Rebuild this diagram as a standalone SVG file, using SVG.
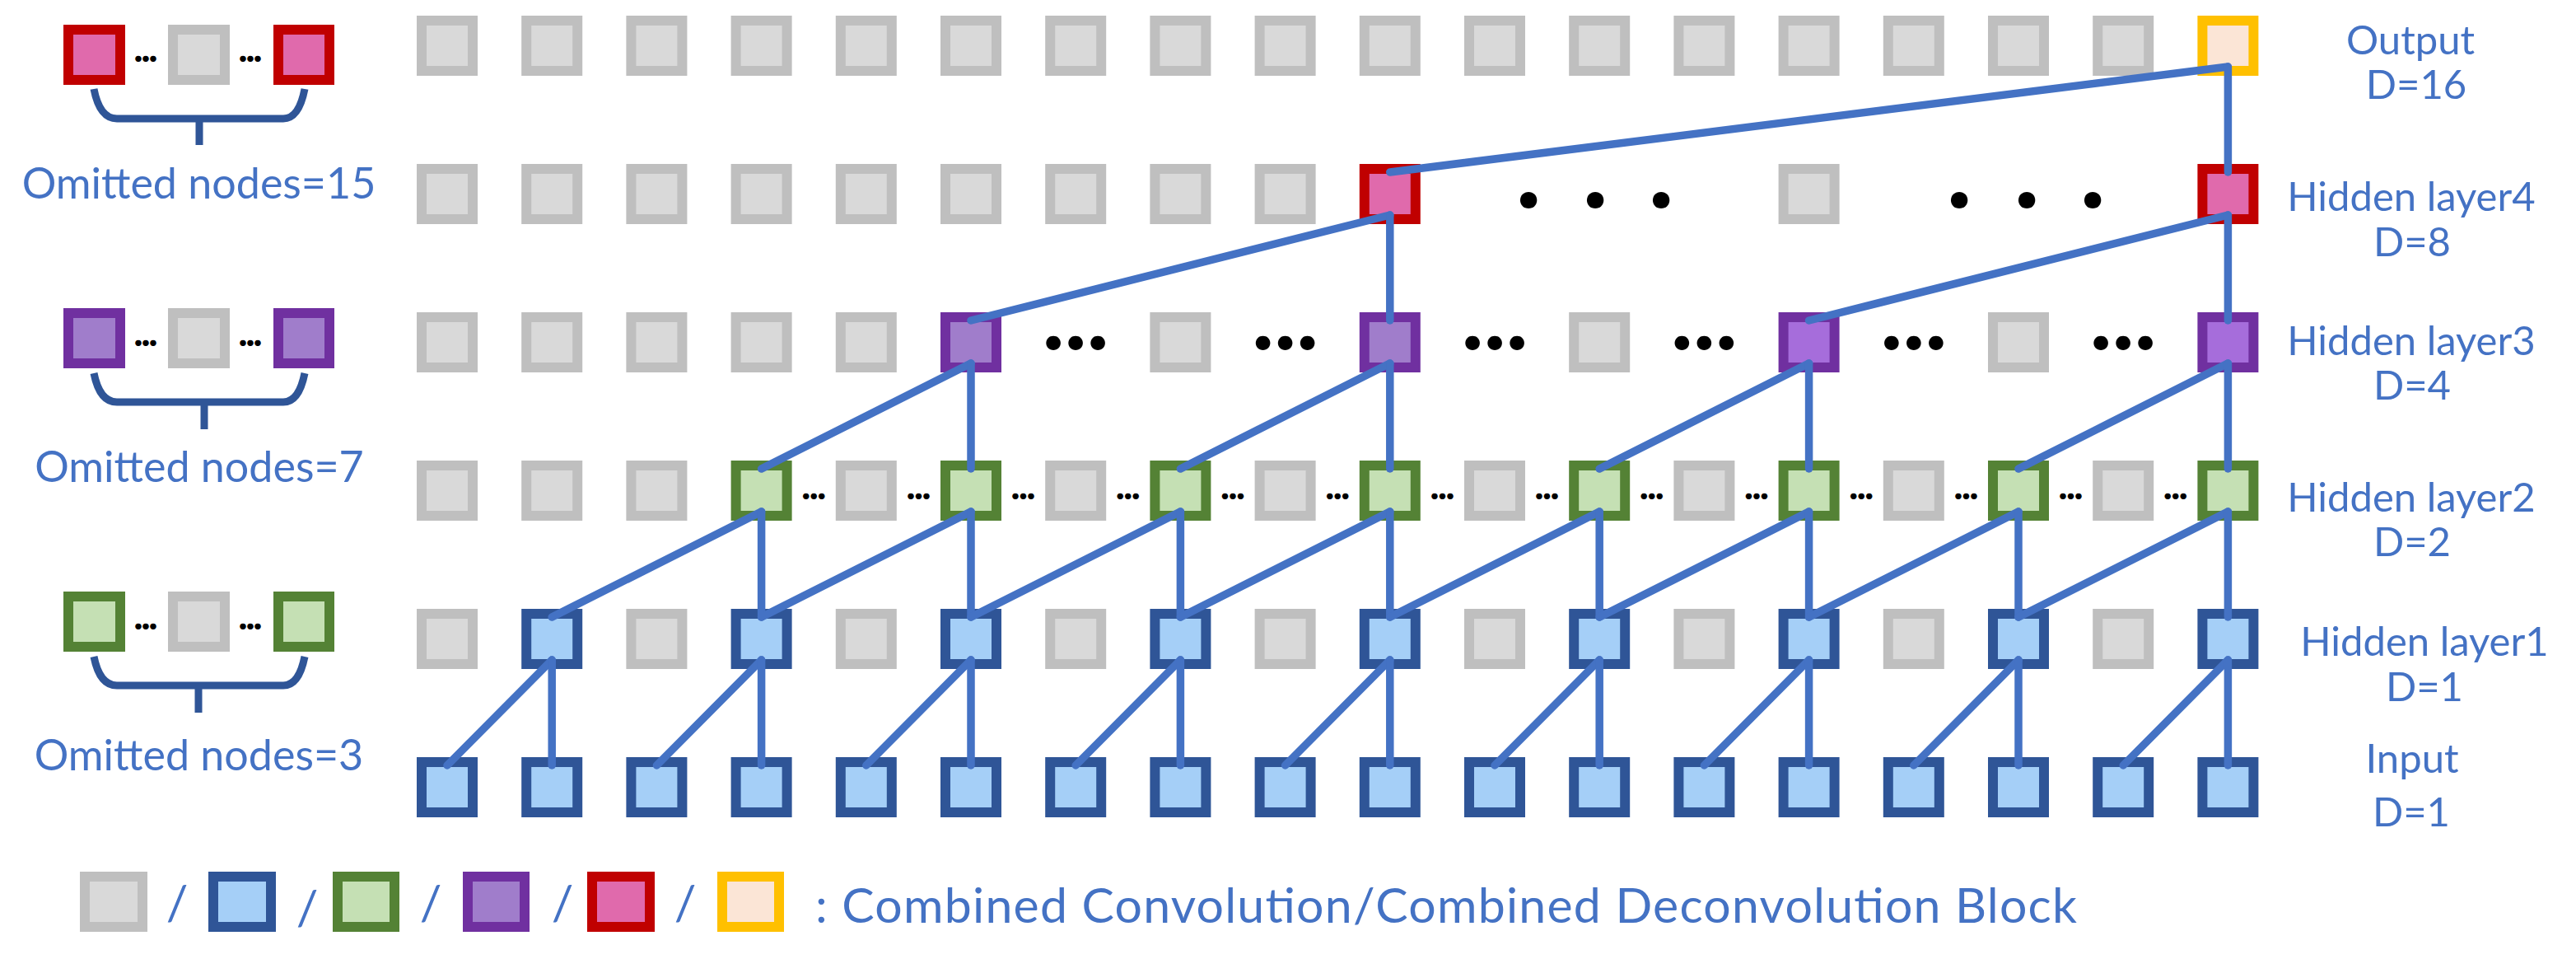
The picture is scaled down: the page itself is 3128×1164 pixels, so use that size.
<svg xmlns="http://www.w3.org/2000/svg" width="3128" height="1164" viewBox="0 0 3128 1164">
<style>
rect{stroke-width:12}
.g{fill:#D9D9D9;stroke:#BFBFBF}
.b{fill:#A5CFF7;stroke:#2F5597}
.gr{fill:#C5E0B4;stroke:#548235}
.p{fill:#A07DCB;stroke:#7030A0}
.p2{fill:#A66DDB;stroke:#7030A0}
.r{fill:#E06AAC;stroke:#C00000}
.o{fill:#FBE5D6;stroke:#FFC000}
.lbl{font-family:Lato,"Liberation Sans",sans-serif;fill:#4472C4;text-anchor:middle}
.dots{font-family:Lato,"Liberation Sans",sans-serif;font-weight:900;fill:#000;text-anchor:middle}
.sd{font-size:46px}
.md{font-size:108px}
.ld{font-size:125px}
#connectors line{stroke:#4472C4;stroke-width:9.5;stroke-linecap:round}
.brk{fill:none;stroke:#2F5597;stroke-width:9}
</style>

<!-- Left legend: omitted nodes -->
<g id="omit15">
  <rect class="r" x="83" y="36" width="63" height="61"/>
  <rect class="g" x="210" y="36" width="63" height="61"/>
  <rect class="r" x="338" y="36" width="62" height="61"/>
  <text class="dots sd" x="168 177 186" y="75">...</text>
  <text class="dots sd" x="295 304 313" y="75">...</text>
  <path class="brk" d="M114,108 Q121,144 142,144 L344,144 Q363,144 370,108 M242,144 L242,176"/>
  <text class="lbl" x="241.5" y="241" font-size="52">Omitted nodes=15</text>
</g>
<g id="omit7">
  <rect class="p" x="83" y="380" width="63" height="61"/>
  <rect class="g" x="210" y="380" width="63" height="61"/>
  <rect class="p" x="338" y="380" width="62" height="61"/>
  <text class="dots sd" x="168 177 186" y="420">...</text>
  <text class="dots sd" x="295 304 313" y="420">...</text>
  <path class="brk" d="M114,453 Q121,488 142,488 L344,488 Q363,488 370,453 M248,488 L248,521"/>
  <text class="lbl" x="242" y="585" font-size="52">Omitted nodes=7</text>
</g>
<g id="omit3">
  <rect class="gr" x="83" y="724" width="63" height="61"/>
  <rect class="g" x="210" y="724" width="63" height="61"/>
  <rect class="gr" x="338" y="724" width="62" height="61"/>
  <text class="dots sd" x="168 177 186" y="764">...</text>
  <text class="dots sd" x="295 304 313" y="764">...</text>
  <path class="brk" d="M114,797 Q121,832 142,832 L344,832 Q363,832 370,797 M241,832 L241,865"/>
  <text class="lbl" x="241.5" y="935" font-size="52">Omitted nodes=3</text>
</g>

<!-- Output row -->
<g id="out0"><rect class="g" x="512" y="25" width="62" height="61"/></g>
<g id="out1"><rect class="g" x="639.2" y="25" width="62" height="61"/></g>
<g id="out2"><rect class="g" x="766.4" y="25" width="62" height="61"/></g>
<g id="out3"><rect class="g" x="893.6" y="25" width="62" height="61"/></g>
<g id="out4"><rect class="g" x="1020.8" y="25" width="62" height="61"/></g>
<g id="out5"><rect class="g" x="1148" y="25" width="62" height="61"/></g>
<g id="out6"><rect class="g" x="1275.2" y="25" width="62" height="61"/></g>
<g id="out7"><rect class="g" x="1402.4" y="25" width="62" height="61"/></g>
<g id="out8"><rect class="g" x="1529.6" y="25" width="62" height="61"/></g>
<g id="out9"><rect class="g" x="1656.8" y="25" width="62" height="61"/></g>
<g id="out10"><rect class="g" x="1784" y="25" width="62" height="61"/></g>
<g id="out11"><rect class="g" x="1911.2" y="25" width="62" height="61"/></g>
<g id="out12"><rect class="g" x="2038.4" y="25" width="62" height="61"/></g>
<g id="out13"><rect class="g" x="2165.6" y="25" width="62" height="61"/></g>
<g id="out14"><rect class="g" x="2292.8" y="25" width="62" height="61"/></g>
<g id="out15"><rect class="g" x="2420" y="25" width="62" height="61"/></g>
<g id="out16"><rect class="g" x="2547.2" y="25" width="62" height="61"/></g>
<g id="out17"><rect class="o" x="2674.4" y="25" width="62" height="61"/></g>

<!-- Hidden layer 4 -->
<g id="h4-0"><rect class="g" x="512" y="205" width="62" height="61"/></g>
<g id="h4-1"><rect class="g" x="639.2" y="205" width="62" height="61"/></g>
<g id="h4-2"><rect class="g" x="766.4" y="205" width="62" height="61"/></g>
<g id="h4-3"><rect class="g" x="893.6" y="205" width="62" height="61"/></g>
<g id="h4-4"><rect class="g" x="1020.8" y="205" width="62" height="61"/></g>
<g id="h4-5"><rect class="g" x="1148" y="205" width="62" height="61"/></g>
<g id="h4-6"><rect class="g" x="1275.2" y="205" width="62" height="61"/></g>
<g id="h4-7"><rect class="g" x="1402.4" y="205" width="62" height="61"/></g>
<g id="h4-8"><rect class="g" x="1529.6" y="205" width="62" height="61"/></g>
<g id="h4-9"><rect class="r" x="1656.8" y="205" width="62" height="61"/></g>
<g id="h4-13"><rect class="g" x="2165.6" y="205" width="62" height="61"/></g>
<g id="h4-17"><rect class="r" x="2674.4" y="205" width="62" height="61"/></g>
<text class="dots ld" x="1856 1937 2017" y="252">...</text>
<text class="dots ld" x="2379 2461 2541" y="252">...</text>

<!-- Hidden layer 3 -->
<g id="h3-0"><rect class="g" x="512" y="385" width="62" height="61"/></g>
<g id="h3-1"><rect class="g" x="639.2" y="385" width="62" height="61"/></g>
<g id="h3-2"><rect class="g" x="766.4" y="385" width="62" height="61"/></g>
<g id="h3-3"><rect class="g" x="893.6" y="385" width="62" height="61"/></g>
<g id="h3-4"><rect class="g" x="1020.8" y="385" width="62" height="61"/></g>
<g id="h3-5"><rect class="p" x="1148" y="385" width="62" height="61"/></g>
<g id="h3-7"><rect class="g" x="1402.4" y="385" width="62" height="61"/></g>
<g id="h3-9"><rect class="p" x="1656.8" y="385" width="62" height="61"/></g>
<g id="h3-11"><rect class="g" x="1911.2" y="385" width="62" height="61"/></g>
<g id="h3-13"><rect class="p2" x="2165.6" y="385" width="62" height="61"/></g>
<g id="h3-15"><rect class="g" x="2420" y="385" width="62" height="61"/></g>
<g id="h3-17"><rect class="p2" x="2674.4" y="385" width="62" height="61"/></g>
<text class="dots md" x="1279.2 1306.2 1333.2" y="424">...</text>
<text class="dots md" x="1533.6 1560.6 1587.6" y="424">...</text>
<text class="dots md" x="1788 1815 1842" y="424">...</text>
<text class="dots md" x="2042.4 2069.4 2096.4" y="424">...</text>
<text class="dots md" x="2296.8 2323.8 2350.8" y="424">...</text>
<text class="dots md" x="2551.2 2578.2 2605.2" y="424">...</text>

<!-- Hidden layer 2 -->
<g id="h2-0"><rect class="g" x="512" y="565" width="62" height="61"/></g>
<g id="h2-1"><rect class="g" x="639.2" y="565" width="62" height="61"/></g>
<g id="h2-2"><rect class="g" x="766.4" y="565" width="62" height="61"/></g>
<g id="h2-3"><rect class="gr" x="893.6" y="565" width="62" height="61"/></g>
<g id="h2-4"><rect class="g" x="1020.8" y="565" width="62" height="61"/></g>
<g id="h2-5"><rect class="gr" x="1148" y="565" width="62" height="61"/></g>
<g id="h2-6"><rect class="g" x="1275.2" y="565" width="62" height="61"/></g>
<g id="h2-7"><rect class="gr" x="1402.4" y="565" width="62" height="61"/></g>
<g id="h2-8"><rect class="g" x="1529.6" y="565" width="62" height="61"/></g>
<g id="h2-9"><rect class="gr" x="1656.8" y="565" width="62" height="61"/></g>
<g id="h2-10"><rect class="g" x="1784" y="565" width="62" height="61"/></g>
<g id="h2-11"><rect class="gr" x="1911.2" y="565" width="62" height="61"/></g>
<g id="h2-12"><rect class="g" x="2038.4" y="565" width="62" height="61"/></g>
<g id="h2-13"><rect class="gr" x="2165.6" y="565" width="62" height="61"/></g>
<g id="h2-14"><rect class="g" x="2292.8" y="565" width="62" height="61"/></g>
<g id="h2-15"><rect class="gr" x="2420" y="565" width="62" height="61"/></g>
<g id="h2-16"><rect class="g" x="2547.2" y="565" width="62" height="61"/></g>
<g id="h2-17"><rect class="gr" x="2674.4" y="565" width="62" height="61"/></g>
<text class="dots sd" x="978.7 988.2 997.7" y="606">...</text>
<text class="dots sd" x="1105.9 1115.4 1124.9" y="606">...</text>
<text class="dots sd" x="1233.1 1242.6 1252.1" y="606">...</text>
<text class="dots sd" x="1360.3 1369.8 1379.3" y="606">...</text>
<text class="dots sd" x="1487.5 1497 1506.5" y="606">...</text>
<text class="dots sd" x="1614.7 1624.2 1633.7" y="606">...</text>
<text class="dots sd" x="1741.9 1751.4 1760.9" y="606">...</text>
<text class="dots sd" x="1869.1 1878.6 1888.1" y="606">...</text>
<text class="dots sd" x="1996.3 2005.8 2015.3" y="606">...</text>
<text class="dots sd" x="2123.5 2133 2142.5" y="606">...</text>
<text class="dots sd" x="2250.7 2260.2 2269.7" y="606">...</text>
<text class="dots sd" x="2377.9 2387.4 2396.9" y="606">...</text>
<text class="dots sd" x="2505.1 2514.6 2524.1" y="606">...</text>
<text class="dots sd" x="2632.3 2641.8 2651.3" y="606">...</text>

<!-- Hidden layer 1 -->
<g id="h1-0"><rect class="g" x="512" y="745" width="62" height="61"/></g>
<g id="h1-1"><rect class="b" x="639.2" y="745" width="62" height="61"/></g>
<g id="h1-2"><rect class="g" x="766.4" y="745" width="62" height="61"/></g>
<g id="h1-3"><rect class="b" x="893.6" y="745" width="62" height="61"/></g>
<g id="h1-4"><rect class="g" x="1020.8" y="745" width="62" height="61"/></g>
<g id="h1-5"><rect class="b" x="1148" y="745" width="62" height="61"/></g>
<g id="h1-6"><rect class="g" x="1275.2" y="745" width="62" height="61"/></g>
<g id="h1-7"><rect class="b" x="1402.4" y="745" width="62" height="61"/></g>
<g id="h1-8"><rect class="g" x="1529.6" y="745" width="62" height="61"/></g>
<g id="h1-9"><rect class="b" x="1656.8" y="745" width="62" height="61"/></g>
<g id="h1-10"><rect class="g" x="1784" y="745" width="62" height="61"/></g>
<g id="h1-11"><rect class="b" x="1911.2" y="745" width="62" height="61"/></g>
<g id="h1-12"><rect class="g" x="2038.4" y="745" width="62" height="61"/></g>
<g id="h1-13"><rect class="b" x="2165.6" y="745" width="62" height="61"/></g>
<g id="h1-14"><rect class="g" x="2292.8" y="745" width="62" height="61"/></g>
<g id="h1-15"><rect class="b" x="2420" y="745" width="62" height="61"/></g>
<g id="h1-16"><rect class="g" x="2547.2" y="745" width="62" height="61"/></g>
<g id="h1-17"><rect class="b" x="2674.4" y="745" width="62" height="61"/></g>

<!-- Input -->
<g id="in0"><rect class="b" x="512" y="925" width="62" height="61"/></g>
<g id="in1"><rect class="b" x="639.2" y="925" width="62" height="61"/></g>
<g id="in2"><rect class="b" x="766.4" y="925" width="62" height="61"/></g>
<g id="in3"><rect class="b" x="893.6" y="925" width="62" height="61"/></g>
<g id="in4"><rect class="b" x="1020.8" y="925" width="62" height="61"/></g>
<g id="in5"><rect class="b" x="1148" y="925" width="62" height="61"/></g>
<g id="in6"><rect class="b" x="1275.2" y="925" width="62" height="61"/></g>
<g id="in7"><rect class="b" x="1402.4" y="925" width="62" height="61"/></g>
<g id="in8"><rect class="b" x="1529.6" y="925" width="62" height="61"/></g>
<g id="in9"><rect class="b" x="1656.8" y="925" width="62" height="61"/></g>
<g id="in10"><rect class="b" x="1784" y="925" width="62" height="61"/></g>
<g id="in11"><rect class="b" x="1911.2" y="925" width="62" height="61"/></g>
<g id="in12"><rect class="b" x="2038.4" y="925" width="62" height="61"/></g>
<g id="in13"><rect class="b" x="2165.6" y="925" width="62" height="61"/></g>
<g id="in14"><rect class="b" x="2292.8" y="925" width="62" height="61"/></g>
<g id="in15"><rect class="b" x="2420" y="925" width="62" height="61"/></g>
<g id="in16"><rect class="b" x="2547.2" y="925" width="62" height="61"/></g>
<g id="in17"><rect class="b" x="2674.4" y="925" width="62" height="61"/></g>

<!-- Connectors -->
<g id="connectors">
  <line x1="543" y1="929" x2="670.2" y2="801"/><line x1="670.2" y1="929" x2="670.2" y2="801"/>
  <line x1="797.4" y1="929" x2="924.6" y2="801"/><line x1="924.6" y1="929" x2="924.6" y2="801"/>
  <line x1="1051.8" y1="929" x2="1179" y2="801"/><line x1="1179" y1="929" x2="1179" y2="801"/>
  <line x1="1306.2" y1="929" x2="1433.4" y2="801"/><line x1="1433.4" y1="929" x2="1433.4" y2="801"/>
  <line x1="1560.6" y1="929" x2="1687.8" y2="801"/><line x1="1687.8" y1="929" x2="1687.8" y2="801"/>
  <line x1="1815" y1="929" x2="1942.2" y2="801"/><line x1="1942.2" y1="929" x2="1942.2" y2="801"/>
  <line x1="2069.4" y1="929" x2="2196.6" y2="801"/><line x1="2196.6" y1="929" x2="2196.6" y2="801"/>
  <line x1="2323.8" y1="929" x2="2451" y2="801"/><line x1="2451" y1="929" x2="2451" y2="801"/>
  <line x1="2578.2" y1="929" x2="2705.4" y2="801"/><line x1="2705.4" y1="929" x2="2705.4" y2="801"/>

  <line x1="670.2" y1="749" x2="924.6" y2="621"/><line x1="924.6" y1="749" x2="924.6" y2="621"/>
  <line x1="924.6" y1="749" x2="1179" y2="621"/><line x1="1179" y1="749" x2="1179" y2="621"/>
  <line x1="1179" y1="749" x2="1433.4" y2="621"/><line x1="1433.4" y1="749" x2="1433.4" y2="621"/>
  <line x1="1433.4" y1="749" x2="1687.8" y2="621"/><line x1="1687.8" y1="749" x2="1687.8" y2="621"/>
  <line x1="1687.8" y1="749" x2="1942.2" y2="621"/><line x1="1942.2" y1="749" x2="1942.2" y2="621"/>
  <line x1="1942.2" y1="749" x2="2196.6" y2="621"/><line x1="2196.6" y1="749" x2="2196.6" y2="621"/>
  <line x1="2196.6" y1="749" x2="2451" y2="621"/><line x1="2451" y1="749" x2="2451" y2="621"/>
  <line x1="2451" y1="749" x2="2705.4" y2="621"/><line x1="2705.4" y1="749" x2="2705.4" y2="621"/>

  <line x1="924.6" y1="569" x2="1179" y2="441"/><line x1="1179" y1="569" x2="1179" y2="441"/>
  <line x1="1433.4" y1="569" x2="1687.8" y2="441"/><line x1="1687.8" y1="569" x2="1687.8" y2="441"/>
  <line x1="1942.2" y1="569" x2="2196.6" y2="441"/><line x1="2196.6" y1="569" x2="2196.6" y2="441"/>
  <line x1="2451" y1="569" x2="2705.4" y2="441"/><line x1="2705.4" y1="569" x2="2705.4" y2="441"/>

  <line x1="1179" y1="389" x2="1687.8" y2="261"/><line x1="1687.8" y1="389" x2="1687.8" y2="261"/>
  <line x1="2196.6" y1="389" x2="2705.4" y2="261"/><line x1="2705.4" y1="389" x2="2705.4" y2="261"/>

  <line x1="1687.8" y1="209" x2="2705.4" y2="81"/><line x1="2705.4" y1="209" x2="2705.4" y2="81"/>
</g>

<!-- Layer labels -->
<g id="labels" font-size="49">
  <text class="lbl" x="2927" y="66">Output<tspan x="2934" y="120">D=16</tspan></text>
  <text class="lbl" x="2928" y="256">Hidden layer4<tspan x="2929" y="311">D=8</tspan></text>
  <text class="lbl" x="2928" y="431">Hidden layer3<tspan x="2929" y="485">D=4</tspan></text>
  <text class="lbl" x="2928" y="621">Hidden layer2<tspan x="2929" y="675">D=2</tspan></text>
  <text class="lbl" x="2944" y="796">Hidden layer1<tspan x="2944" y="851">D=1</tspan></text>
  <text class="lbl" x="2929" y="938">Input</text>
  <text class="lbl" x="2928" y="1003">D=1</text>
</g>

<!-- Bottom legend -->
<g id="legend">
  <rect class="g" x="103" y="1064" width="70" height="61"/>
  <rect class="b" x="259" y="1064" width="70" height="61"/>
  <rect class="gr" x="410" y="1064" width="69" height="61"/>
  <rect class="p" x="568" y="1064" width="69" height="61"/>
  <rect class="r" x="719" y="1064" width="70" height="61"/>
  <rect class="o" x="877" y="1064" width="69" height="61"/>
  <text class="lbl" font-size="59" x="215" y="1117">/</text>
  <text class="lbl" font-size="59" x="373" y="1123">/</text>
  <text class="lbl" font-size="59" x="523" y="1117">/</text>
  <text class="lbl" font-size="59" x="683" y="1117">/</text>
  <text class="lbl" font-size="59" x="832" y="1117">/</text>
  <text class="lbl" font-size="59" x="990" y="1120" style="text-anchor:start" textLength="1532">: Combined Convolution/Combined Deconvolution Block</text>
</g>
</svg>
